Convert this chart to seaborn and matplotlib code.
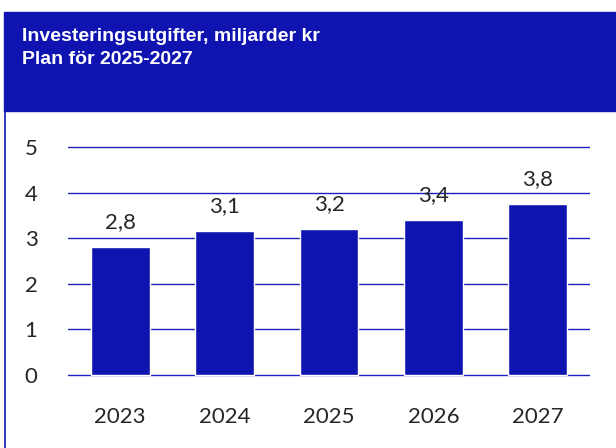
import matplotlib.pyplot as plt
import matplotlib.patches as patches
from matplotlib.lines import Line2D
import seaborn as sns

years = ["2023", "2024", "2025", "2026", "2027"]
values = [2.8, 3.15, 3.2, 3.4, 3.75]
value_labels = ["2,8", "3,1", "3,2", "3,4", "3,8"]
yticks = [0, 1, 2, 3, 4, 5]
title = "Investeringsutgifter, miljarder kr\nPlan för 2025-2027"

blue = "#0f14b0"
grid_blue = "#1c20c0"

sns.set_style("white")
plt.rcParams['font.family'] = ['Lato', 'DejaVu Sans']

fig = plt.figure(figsize=(6.16, 4.48), dpi=100)

# header band + left border
fig.patches.append(patches.Rectangle((4 / 616, 1 - 111 / 448), 1, 99 / 448,
                                     transform=fig.transFigure, color=blue, zorder=0))
fig.lines.append(Line2D([4.5 / 616, 4.5 / 616], [0, 1 - 111 / 448],
                        transform=fig.transFigure, color=blue, lw=1.2))
fig.text(22 / 616, 1 - 28 / 448, title, color="white", fontsize=14, fontweight="bold",
         family=["Liberation Sans", "DejaVu Sans"], va="top", ha="left", linespacing=1.45)

# pixel positions of y=0 and y=5 in the reference
ymin, ymax = -0.04, 5.05
y0, y5 = 375, 147
px_per = (y0 - y5) / 5
bottom_px = y0 - ymin * px_per
ax = fig.add_axes([68 / 616, (448 - bottom_px) / 448, 522 / 616, (ymax - ymin) * px_per / 448])

sns.barplot(x=years, y=values, color=blue, width=0.565, saturation=1, ax=ax, zorder=3)
ax.bar_label(ax.containers[0], labels=value_labels, padding=11, fontsize=16, color="#262626")

ax.set_ylim(ymin, ymax)
ax.set_xlim(-0.5, len(years) - 0.5)
ax.set_yticks(yticks)
ax.yaxis.grid(True, color=grid_blue, lw=1.0, zorder=0)
ax.set_axisbelow(True)
sns.despine(ax=ax, left=True, bottom=True)
ax.tick_params(axis="y", length=0, pad=22, labelsize=16, labelcolor="#262626")
ax.tick_params(axis="x", length=0, pad=22, labelsize=16, labelcolor="#262626")
ax.set_xlabel("")
ax.set_ylabel("")

plt.savefig("out.png", dpi=100)
